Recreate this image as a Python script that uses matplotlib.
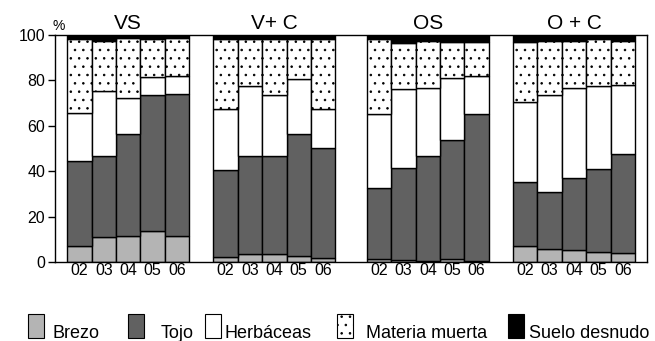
import matplotlib
matplotlib.use('Agg')
import matplotlib.pyplot as plt
import numpy as np
from matplotlib.patches import Rectangle

plt.rcParams['font.family'] = ['Liberation Sans', 'DejaVu Sans']
plt.rcParams['hatch.linewidth'] = 0.6

# ── Data (% cover per year) ─────────────────────────────────────────────────
groups = ["VS", "V+ C", "OS", "O + C"]
years = ["02", "03", "04", "05", "06"]

brezo = [
    [7.2, 10.9, 11.5, 13.8, 11.5],
    [2.3, 3.5, 3.5, 2.8, 1.6],
    [1.2, 0.9, 0.5, 1.2, 0.5],
    [7.2, 5.7, 5.3, 4.5, 3.8],
]
tojo = [
    [37.3, 35.8, 44.8, 59.8, 62.5],
    [38.2, 43.3, 43.4, 53.6, 48.8],
    [31.3, 40.3, 46.3, 52.5, 64.7],
    [28.2, 25.0, 31.8, 36.6, 43.6],
]
herbaceas = [
    [21.0, 28.5, 16.1, 8.0, 8.1],
    [26.9, 30.7, 26.7, 24.1, 17.0],
    [32.6, 34.9, 30.0, 27.2, 16.7],
    [35.2, 42.9, 39.7, 36.4, 30.6],
]
suelo = [
    [1.5, 2.5, 1.2, 1.5, 1.2],
    [1.5, 1.5, 1.5, 1.5, 1.5],
    [1.5, 3.5, 2.5, 3.0, 3.0],
    [3.0, 2.5, 2.5, 1.5, 2.5],
]

labels = ["Brezo", "Tojo", "Herbáceas", "Materia muerta", "Suelo desnudo"]

# ── Style ───────────────────────────────────────────────────────────────────
GRAY_L = "#b4b4b4"
GRAY_D = "#616161"
group_start = [1, 7, 13.3, 19.3]

fig = plt.figure(figsize=(6.55, 3.41), dpi=100, facecolor='white')
ax = fig.add_axes([0.084, 0.232, 0.904, 0.665])

for g in range(len(groups)):
    x = group_start[g] + np.arange(len(years))
    b = np.array(brezo[g])
    t = np.array(tojo[g])
    h = np.array(herbaceas[g])
    s = np.array(suelo[g])
    m = 100 - b - t - h - s
    kw = dict(width=1.0, edgecolor='black', linewidth=1.0)
    ax.bar(x, b, color=GRAY_L, **kw)
    ax.bar(x, t, bottom=b, color=GRAY_D, **kw)
    ax.bar(x, h, bottom=b + t, color='white', **kw)
    ax.bar(x, m, bottom=b + t + h, color='white', hatch='..', **kw)
    ax.bar(x, s, bottom=b + t + h + m, color='black', **kw)
    ax.text(x.mean(), 100.8, groups[g], ha='center', va='bottom', fontsize=15)

all_x = np.concatenate([group_start[g] + np.arange(len(years)) for g in range(len(groups))])
ax.set_xticks(all_x)
ax.set_xticklabels(years * len(groups), fontsize=11.5)
ax.tick_params(axis='x', length=0, pad=1)
ax.set_xlim(0, 24.3)
ax.set_ylim(0, 100)
ax.set_yticks(range(0, 101, 20))
ax.tick_params(axis='y', labelsize=11.5, length=5, width=1, direction='out', pad=2)
for sp in ax.spines.values():
    sp.set_linewidth(1.0)
ax.text(0.15, 101, "%", ha='center', va='bottom', fontsize=10)

# ── Legend (manual, bottom) ─────────────────────────────────────────────────
W, H = 655.0, 341.0
fills = [dict(facecolor=GRAY_L), dict(facecolor=GRAY_D), dict(facecolor='white'),
         dict(facecolor='white', hatch='..'), dict(facecolor='black')]
patch_x = [28, 128, 205, 337, 508]
text_x = [52, 161, 225, 366, 529]
for lab, f, px, tx in zip(labels, fills, patch_x, text_x):
    r = Rectangle((px / W, 1 - 338 / H), 16 / W, 24 / H, transform=fig.transFigure,
                  edgecolor='black', linewidth=0.8, **f)
    fig.patches.append(r)
    fig.text(tx / W, 1 - 338 / H, lab, ha='left', va='baseline', fontsize=13)

plt.savefig("out.png", dpi=100, facecolor='white')
plt.close()
